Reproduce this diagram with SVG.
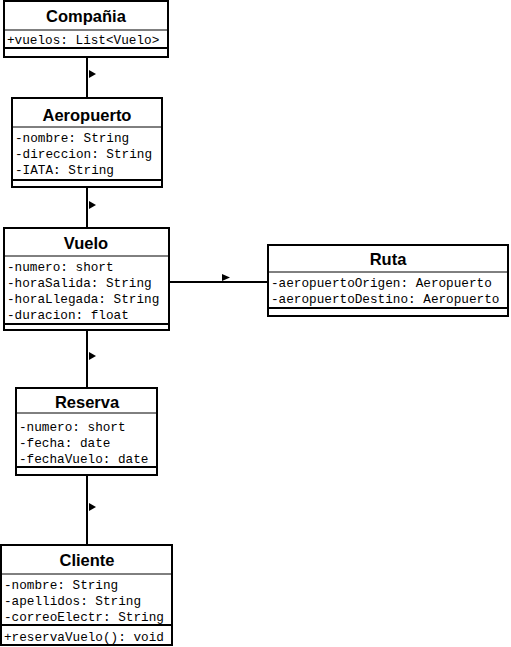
<svg xmlns="http://www.w3.org/2000/svg" width="511" height="647" viewBox="0 0 511 647">
<style>
.box{fill:#fff;stroke:#000;stroke-width:2}
.s1{stroke:#000;stroke-width:1}
.s2{stroke:#000;stroke-width:2}
.t{font-family:"Liberation Sans",Arial,sans-serif;font-weight:bold;font-size:16.5px;text-anchor:middle;fill:#000}
.a{font-family:"Liberation Mono","Courier New",monospace;font-size:12.7px;fill:#000}
.c{stroke:#000;stroke-width:2;fill:none}
.ar{fill:#000}
</style>
<rect width="511" height="647" fill="#fff"/>
<g id="connectors">
<line class="c" x1="87" y1="57" x2="87" y2="98"/>
<polygon class="ar" points="89,70 89,78 96,74"/>
<line class="c" x1="87" y1="187" x2="87" y2="228"/>
<polygon class="ar" points="89,201 89,209 96,205"/>
<line class="c" x1="169" y1="282" x2="268" y2="282"/>
<polygon class="ar" points="222,274 222,281 230,277.5"/>
<line class="c" x1="87" y1="330" x2="87" y2="388"/>
<polygon class="ar" points="89,352 89,360 96,356"/>
<line class="c" x1="87" y1="475" x2="87" y2="545"/>
<polygon class="ar" points="89,503 89,511 96,507"/>
</g>
<g id="Compania">
<rect class="box" x="4" y="1" width="164" height="56"/>
<line class="s1" x1="4" y1="30" x2="168" y2="30"/>
<line class="s2" x1="4" y1="48" x2="168" y2="48"/>
<text class="t" x="86" y="22">Compañia</text>
<text class="a" x="7" y="44">+vuelos: List&lt;Vuelo&gt;</text>
</g>
<g id="Aeropuerto">
<rect class="box" x="12" y="98" width="150" height="89"/>
<line class="s1" x1="12" y1="127" x2="162" y2="127"/>
<line class="s2" x1="12" y1="180" x2="162" y2="180"/>
<text class="t" x="87" y="121">Aeropuerto</text>
<text class="a" x="15" y="142">-nombre: String</text>
<text class="a" x="15" y="158">-direccion: String</text>
<text class="a" x="15" y="174">-IATA: String</text>
</g>
<g id="Vuelo">
<rect class="box" x="4" y="228" width="165" height="102"/>
<line class="s1" x1="4" y1="256" x2="169" y2="256"/>
<line class="s2" x1="4" y1="324" x2="169" y2="324"/>
<text class="t" x="86" y="249">Vuelo</text>
<text class="a" x="7" y="271">-numero: short</text>
<text class="a" x="7" y="287">-horaSalida: String</text>
<text class="a" x="7" y="303">-horaLlegada: String</text>
<text class="a" x="7" y="319">-duracion: float</text>
</g>
<g id="Ruta">
<rect class="box" x="268" y="245" width="240" height="71"/>
<line class="s1" x1="268" y1="272" x2="508" y2="272"/>
<line class="s2" x1="268" y1="308" x2="508" y2="308"/>
<text class="t" x="388" y="265">Ruta</text>
<text class="a" x="271" y="287">-aeropuertoOrigen: Aeropuerto</text>
<text class="a" x="271" y="303">-aeropuertoDestino: Aeropuerto</text>
</g>
<g id="Reserva">
<rect class="box" x="16" y="388" width="141" height="87"/>
<line class="s1" x1="16" y1="413" x2="157" y2="413"/>
<line class="s2" x1="16" y1="467" x2="157" y2="467"/>
<text class="t" x="87" y="408">Reserva</text>
<text class="a" x="19" y="431">-numero: short</text>
<text class="a" x="19" y="447">-fecha: date</text>
<text class="a" x="19" y="463">-fechaVuelo: date</text>
</g>
<g id="Cliente">
<rect class="box" x="1" y="545" width="171" height="100"/>
<line class="s1" x1="1" y1="574" x2="172" y2="574"/>
<line class="s2" x1="1" y1="625" x2="172" y2="625"/>
<text class="t" x="87" y="566">Cliente</text>
<text class="a" x="4" y="589">-nombre: String</text>
<text class="a" x="4" y="605">-apellidos: String</text>
<text class="a" x="4" y="621">-correoElectr: String</text>
<text class="a" x="4" y="641">+reservaVuelo(): void</text>
</g>
</svg>
